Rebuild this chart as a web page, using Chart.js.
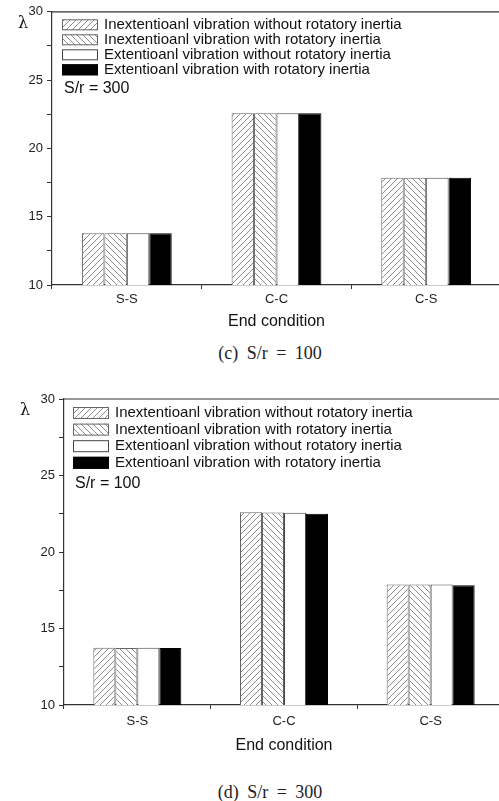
<!DOCTYPE html>
<html>
<head>
<meta charset="utf-8">
<script src="https://cdn.jsdelivr.net/npm/chart.js"></script>
<style>
  html, body { margin: 0; padding: 0; background: #fff; overflow: hidden; width: 499px; height: 801px; }
  canvas { position: absolute; left: 0; }
  #chartC { top: 0; }
  #chartD { top: 385px; }
  .cap { position: absolute; left: 0; width: 540px; text-align: center; line-height: 20px;
         font-family: "Liberation Serif", "DejaVu Serif", serif; font-size: 18px;
         word-spacing: 4px; white-space: pre; color: #222; }
</style>
</head>
<body>
<canvas id="chartC" width="505" height="340"></canvas>
<div class="cap" style="top:343px">(c) S/r = 100</div>
<canvas id="chartD" width="505" height="380"></canvas>
<div class="cap" style="top:782px">(d) S/r = 300</div>
<script>
// end conditions and the four vibration cases
const conditions = ['S-S', 'C-C', 'C-S'];
const seriesNames = [
  'Inextentioanl vibration without rotatory inertia',
  'Inextentioanl vibration with rotatory inertia',
  'Extentioanl vibration without rotatory inertia',
  'Extentioanl vibration with rotatory inertia',
];

// panel (c)
const cInextWithout = [13.78, 22.58, 17.86];
const cInextWith    = [13.78, 22.58, 17.86];
const cExtWithout   = [13.78, 22.58, 17.86];
const cExtWith      = [13.78, 22.58, 17.86];

// panel (d)
const dInextWithout = [13.74, 22.60, 17.88];
const dInextWith    = [13.73, 22.58, 17.88];
const dExtWithout   = [13.74, 22.57, 17.88];
const dExtWith      = [13.73, 22.50, 17.82];

const yMin = 10, yMax = 30, yStep = 2.5;

const SANS = '"Liberation Sans", Arial, sans-serif';

function hatch(dir) {
  const c = document.createElement('canvas');
  c.width = 6; c.height = 6;
  const g = c.getContext('2d');
  g.fillStyle = '#fff';
  g.fillRect(0, 0, 6, 6);
  g.strokeStyle = '#8c8c8c';
  g.lineWidth = 1;
  g.beginPath();
  if (dir === '/') {
    g.moveTo(0, 6); g.lineTo(6, 0);
    g.moveTo(-1, 1); g.lineTo(1, -1);
    g.moveTo(5, 7); g.lineTo(7, 5);
  } else {
    g.moveTo(0, 0); g.lineTo(6, 6);
    g.moveTo(-1, 5); g.lineTo(1, 7);
    g.moveTo(5, -1); g.lineTo(7, 1);
  }
  g.stroke();
  return g.createPattern(c, 'repeat');
}

// legend, note, lambda and top frame line drawn inside the plot
const frameNotes = {
  id: 'frameNotes',
  afterDatasetsDraw(chart, args, o) {
    const ctx = chart.ctx, a = chart.chartArea;
    ctx.save();
    ctx.strokeStyle = '#333';
    ctx.lineWidth = 1.2;
    ctx.beginPath();
    ctx.moveTo(a.left, a.top);
    ctx.lineTo(a.right, a.top);
    ctx.stroke();

    ctx.font = '15px ' + SANS;
    ctx.textBaseline = 'middle';
    ctx.textAlign = 'left';
    chart.data.datasets.forEach((ds, i) => {
      const x = a.left + o.legendLeft;
      const y = a.top + o.legendTop + i * o.legendPitch;
      ctx.fillStyle = ds.backgroundColor;
      ctx.fillRect(x, y - o.boxH / 2, 36, o.boxH);
      ctx.strokeStyle = ds.borderColor;
      ctx.lineWidth = 1;
      ctx.strokeRect(x + 0.5, y - o.boxH / 2 + 0.5, 35, o.boxH - 1);
      ctx.fillStyle = '#111';
      ctx.fillText(ds.label, x + 42, y);
    });

    ctx.font = '16px ' + SANS;
    ctx.fillText(o.note, a.left + o.noteLeft, a.top + o.noteTop);

    ctx.font = '16px "DejaVu Serif", serif';
    ctx.textAlign = 'center';
    ctx.fillText('\u03bb', o.lambdaX, a.top + 12);
    ctx.restore();
  }
};

function makeChart(id, values, g) {
  const fills = [hatch('/'), hatch('\\'), '#ffffff', '#000000'];
  const borders = ['#666', '#666', '#444', '#000'];
  return new Chart(document.getElementById(id), {
    type: 'bar',
    data: {
      labels: conditions,
      datasets: values.map((v, i) => ({
        label: seriesNames[i],
        data: v,
        backgroundColor: fills[i],
        borderColor: borders[i],
        borderWidth: 1,
        barPercentage: 1,
        categoryPercentage: 0.6,
      })),
    },
    options: {
      responsive: false,
      animation: false,
      layout: { padding: { left: 0, top: g.padTop, right: g.padRight, bottom: g.padBottom } },
      plugins: {
        legend: { display: false },
        tooltip: { enabled: false },
        frameNotes: g.notes,
      },
      scales: {
        x: {
          afterFit: s => { s.height = g.xHeight; },
          grid: { drawOnChartArea: false, drawTicks: true, tickLength: 4, color: '#333', offset: true },
          border: { color: '#333', width: 1.2 },
          ticks: { color: '#222', font: { family: SANS, size: 13 }, padding: g.xPad },
          title: { display: true, text: 'End condition', color: '#111',
                   font: { family: SANS, size: 16 }, padding: 0 },
        },
        y: {
          min: yMin,
          max: yMax,
          afterFit: s => { s.width = g.yWidth; },
          grid: { drawOnChartArea: false, drawTicks: true, tickLength: 5, color: '#333' },
          border: { color: '#333', width: 1.2 },
          ticks: {
            stepSize: yStep,
            color: '#222',
            font: { family: SANS, size: 13 },
            padding: 4,
            callback: v => (v % 5 === 0 ? v : ''),
          },
        },
      },
    },
    plugins: [frameNotes],
  });
}

makeChart('chartC', [cInextWithout, cInextWith, cExtWithout, cExtWith], {
  padTop: 10, padRight: 4, padBottom: 9, xHeight: 46, yWidth: 52, xPad: 3,
  notes: { legendLeft: 10, legendTop: 13, legendPitch: 15, boxH: 11,
           note: 'S/r = 300', noteLeft: 12, noteTop: 77, lambdaX: 23 },
});

makeChart('chartD', [dInextWithout, dInextWith, dExtWithout, dExtWith], {
  padTop: 14, padRight: 1, padBottom: 10, xHeight: 50, yWidth: 64, xPad: 5,
  notes: { legendLeft: 9, legendTop: 14, legendPitch: 16.6, boxH: 12,
           note: 'S/r = 100', noteLeft: 11, noteTop: 85, lambdaX: 25 },
});
</script>
</body>
</html>
